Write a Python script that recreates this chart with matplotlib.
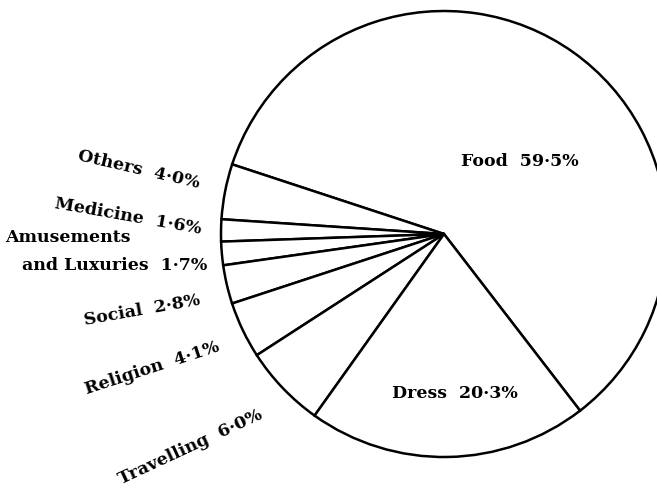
import numpy as np
import matplotlib.pyplot as plt

# household expenditure shares (%), counter-clockwise from Food
categories = ['Food', 'Others', 'Medicine', 'Amusements\nand Luxuries', 'Social',
              'Religion', 'Travelling', 'Dress']
shares = [59.5, 4.0, 1.6, 1.7, 2.8, 4.1, 6.0, 20.3]

def pct(v):
    return ('%.1f' % v).replace('.', '\u00b7') + '%'

fig = plt.figure(figsize=(6.57, 4.94), dpi=100)
ax = fig.add_axes([0, 0, 1, 1])
ax.set_xlim(0, 657)
ax.set_ylim(0, 494)
ax.axis('off')

ax.pie(shares, startangle=-52.4, counterclock=True, center=(444, 260), radius=223,
       colors=['white'] * len(shares),
       wedgeprops=dict(edgecolor='black', linewidth=1.8))
ax.set_xlim(0, 657)
ax.set_ylim(0, 494)
ax.set_aspect('equal')

font = dict(family='DejaVu Serif', weight='bold', color='black', fontsize=12.5)

# inside labels
ax.text(520, 494 - 162, categories[0] + '  ' + pct(shares[0]), ha='center', va='center', **font)
ax.text(455, 494 - 393, categories[7] + '  ' + pct(shares[7]), ha='center', va='center', **font)

# outside labels (x, y in px from top-left, rotation)
ax.text(139, 494 - 170, categories[1] + '  ' + pct(shares[1]), ha='center', va='center',
        rotation=-13, rotation_mode='anchor', **font)
ax.text(128, 494 - 216, categories[2] + '  ' + pct(shares[2]), ha='center', va='center',
        rotation=-10, rotation_mode='anchor', **font)
amuse, lux = categories[3].split('\n')
ax.text(5, 494 - 238, amuse, ha='left', va='center', **font)
ax.text(22, 494 - 265, lux + '  ' + pct(shares[3]), ha='left', va='center', **font)
ax.text(142, 494 - 310, categories[4] + '  ' + pct(shares[4]), ha='center', va='center',
        rotation=10, rotation_mode='anchor', **font)
ax.text(152, 494 - 368, categories[5] + '  ' + pct(shares[5]), ha='center', va='center',
        rotation=18, rotation_mode='anchor', **font)
ax.text(190, 494 - 447, categories[6] + '  ' + pct(shares[6]), ha='center', va='center',
        rotation=25, rotation_mode='anchor', **font)

fig.savefig('out.png', dpi=100, facecolor='white')
